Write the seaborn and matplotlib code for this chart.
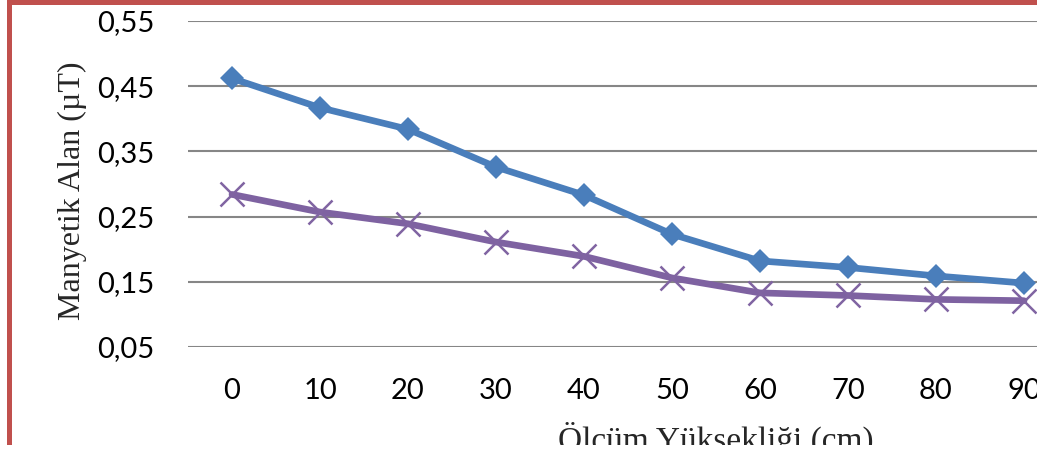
import matplotlib
matplotlib.use("Agg")
import matplotlib.pyplot as plt
import matplotlib.patches as mpatches
import seaborn as sns
import pandas as pd

# Measurement heights (cm) and magnetic field readings (µT)
heights = [0, 10, 20, 30, 40, 50, 60, 70, 80, 90]
series_a = [0.462, 0.417, 0.384, 0.326, 0.283, 0.223, 0.182, 0.172, 0.159, 0.148]
series_b = [0.284, 0.257, 0.239, 0.211, 0.189, 0.156, 0.133, 0.129, 0.123, 0.121]
y_ticks = [0.05, 0.15, 0.25, 0.35, 0.45, 0.55]
y_tick_labels = ["0,05", "0,15", "0,25", "0,35", "0,45", "0,55"]
x_title = "Ölçüm Yüksekliği (cm)"
y_title = "Manyetik Alan (µT)"

sns.set_theme(style="white")
plt.rcParams["font.family"] = ["Lato", "DejaVu Sans"]

W, H = 1044, 453
fig = plt.figure(figsize=(W / 100, H / 100), dpi=100)
fig.patch.set_facecolor("white")

# plot area (extends past the right edge of the visible region)
left, right, top, bottom = 188, 1068, 21, 347
ax = fig.add_axes([left / W, (H - bottom) / H, (right - left) / W, (bottom - top) / H])
ax.set_facecolor("white")

df_a = pd.DataFrame({"h": heights, "v": series_a})
df_b = pd.DataFrame({"h": heights, "v": series_b})

sns.lineplot(data=df_a, x="h", y="v", ax=ax, color="#4A7EBB", linewidth=4.8,
             marker="D", markersize=12.5, markeredgewidth=0,
             markerfacecolor="#4A7EBB", zorder=4)
sns.lineplot(data=df_b, x="h", y="v", ax=ax, color="#7E62A1", linewidth=4.8,
             marker="x", markersize=17, markeredgewidth=1.8,
             markeredgecolor="#8064A2", zorder=3)

ax.set_xlim(-5, 95)
ax.set_ylim(0.05, 0.55)
ax.set_xticks(heights)
ax.set_xticklabels([str(h) for h in heights])
ax.set_yticks(y_ticks)
ax.set_yticklabels(y_tick_labels)
ax.tick_params(axis="y", length=0, pad=24, labelsize=21, colors="black")
ax.tick_params(axis="x", length=0, pad=22, labelsize=21, colors="black")
ax.yaxis.grid(True, color="#868686", linewidth=1.5)
ax.xaxis.grid(False)
for s in ax.spines.values():
    s.set_visible(False)
ax.set_xlabel("")
ax.set_ylabel("")

fig.text(716 / W, 1 - 450 / H, x_title, ha="center", va="baseline",
         family=["Liberation Serif", "DejaVu Serif"], fontsize=24)
fig.text(72 / W, 1 - 191 / H, y_title, ha="center", va="center", rotation=90,
         family=["Liberation Serif", "DejaVu Serif"], fontsize=23)

# red chart frame along the left and top edges
frame = mpatches.Rectangle((8.5 / W, -0.2), 1.5, 1.2 - 2.2 / H,
                           transform=fig.transFigure, fill=False,
                           edgecolor="#C0504D", linewidth=3.6, clip_on=False,
                           zorder=5)
fig.add_artist(frame)

# white margins where the chart area ends (right and bottom strips)
for (x0, y0, w, h) in [(1037, 0, 20, H), (0, 445, W, 20)]:
    fig.add_artist(mpatches.Rectangle((x0 / W, 1 - (y0 + h) / H), w / W, h / H,
                                      transform=fig.transFigure, facecolor="white",
                                      edgecolor="none", zorder=10))

fig.savefig("out.png", dpi=100, facecolor="white")
